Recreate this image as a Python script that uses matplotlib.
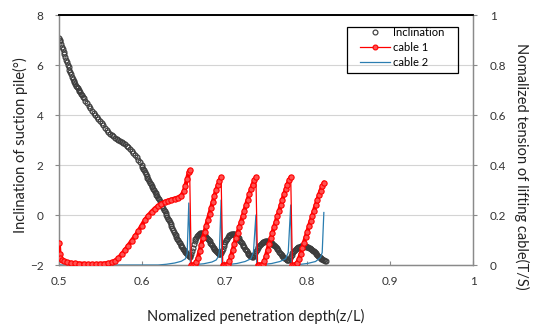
import numpy as np
import matplotlib
matplotlib.use("Agg")
import matplotlib.pyplot as plt
from matplotlib.lines import Line2D
from matplotlib.patches import Rectangle

plt.rcParams['font.family'] = ['Lato', 'DejaVu Sans']

# Inclination of the suction pile (deg) vs normalized penetration depth
incl_depth = [
    0.500, 0.501, 0.502, 0.503, 0.504, 0.505, 0.506, 0.507, 0.508, 0.509,
    0.510, 0.511, 0.512, 0.513, 0.514, 0.515, 0.516, 0.517, 0.518, 0.519,
    0.520, 0.521, 0.522, 0.523, 0.524, 0.525, 0.526, 0.527, 0.528, 0.529,
    0.530, 0.532, 0.534, 0.536, 0.538, 0.540, 0.542, 0.544, 0.546, 0.548,
    0.550, 0.552, 0.554, 0.556, 0.558, 0.560, 0.562, 0.564, 0.566, 0.568,
    0.570, 0.572, 0.574, 0.576, 0.578, 0.580, 0.582, 0.584, 0.586, 0.588,
    0.590, 0.592, 0.594, 0.596, 0.598,
    0.600, 0.601, 0.602, 0.603, 0.604, 0.605, 0.606, 0.607, 0.608, 0.609,
    0.610, 0.611, 0.612, 0.613, 0.614, 0.615, 0.616, 0.617, 0.618, 0.619,
    0.620, 0.621, 0.622, 0.623, 0.624, 0.625, 0.626, 0.627, 0.628, 0.629,
    0.630, 0.631, 0.632, 0.633, 0.634, 0.635, 0.636, 0.637, 0.638, 0.639,
    0.640, 0.641, 0.642, 0.643, 0.644, 0.645, 0.646, 0.647, 0.648, 0.649,
    0.650, 0.651, 0.652, 0.653, 0.654, 0.655, 0.656, 0.657, 0.658, 0.659,
    0.660, 0.661, 0.662, 0.663, 0.664, 0.665, 0.666, 0.667, 0.668, 0.669,
    0.670, 0.671, 0.672, 0.673, 0.674, 0.675, 0.676, 0.677, 0.678, 0.679,
    0.680, 0.681, 0.682, 0.683, 0.684, 0.685, 0.686, 0.687, 0.688, 0.689,
    0.690, 0.691, 0.692, 0.693, 0.694, 0.695, 0.696, 0.697, 0.698, 0.699,
    0.700, 0.701, 0.702, 0.703, 0.704, 0.705, 0.706, 0.707, 0.708, 0.709,
    0.710, 0.711, 0.712, 0.713, 0.714, 0.715, 0.716, 0.717, 0.718, 0.719,
    0.720, 0.721, 0.722, 0.723, 0.724, 0.725, 0.726, 0.727, 0.728, 0.729,
    0.730, 0.731, 0.732, 0.733, 0.734, 0.735, 0.736, 0.737, 0.738, 0.739,
    0.740, 0.741, 0.742, 0.743, 0.744, 0.745, 0.746, 0.747, 0.748, 0.749,
    0.750, 0.751, 0.752, 0.753, 0.754, 0.755, 0.756, 0.757, 0.758, 0.759,
    0.760, 0.761, 0.762, 0.763, 0.764, 0.765, 0.766, 0.767, 0.768, 0.769,
    0.770, 0.771, 0.772, 0.773, 0.774, 0.775, 0.776, 0.777, 0.778, 0.779,
    0.780, 0.781, 0.782, 0.783, 0.784, 0.785, 0.786, 0.787, 0.788, 0.789,
    0.790, 0.791, 0.792, 0.793, 0.794, 0.795, 0.796, 0.797, 0.798, 0.799,
    0.800, 0.801, 0.802, 0.803, 0.804, 0.805, 0.806, 0.807, 0.808, 0.809,
    0.810, 0.811, 0.812, 0.813, 0.814, 0.815, 0.816, 0.817, 0.818, 0.819,
    0.820, 0.821, 0.822,
]
incl_angle = [
    7.08, 7.02, 6.95, 6.85, 6.74, 6.64, 6.53, 6.43, 6.33, 6.22,
    6.11, 6.01, 5.91, 5.81, 5.72, 5.63, 5.54, 5.46, 5.38, 5.31,
    5.24, 5.18, 5.12, 5.07, 5.02, 4.97, 4.92, 4.86, 4.80, 4.74,
    4.68, 4.57, 4.47, 4.37, 4.27, 4.18, 4.10, 4.01, 3.92, 3.85,
    3.77, 3.68, 3.59, 3.50, 3.41, 3.33, 3.26, 3.20, 3.15, 3.10,
    3.06, 3.02, 2.98, 2.94, 2.89, 2.84, 2.78, 2.71, 2.64, 2.56,
    2.48, 2.40, 2.31, 2.22, 2.11,
    1.99, 1.93, 1.86, 1.79, 1.72, 1.645, 1.57, 1.50, 1.43, 1.365,
    1.30, 1.24, 1.18, 1.12, 1.06, 1.00, 0.94, 0.88, 0.82, 0.76,
    0.70, 0.635, 0.57, 0.50, 0.43, 0.36, 0.29, 0.22, 0.15, 0.08,
    0.01, -0.065, -0.14, -0.215, -0.29, -0.365, -0.44, -0.515, -0.59, -0.665,
    -0.74, -0.81, -0.88, -0.945, -1.01, -1.07, -1.13, -1.185, -1.24, -1.29,
    -1.34, -1.385, -1.43, -1.475, -1.52, -1.56, -1.60, -1.64, -1.66, -1.62,
    -1.55, -1.43, -1.30, -1.17, -1.05, -0.97, -0.90, -0.85, -0.80, -0.77,
    -0.74, -0.725, -0.72, -0.73, -0.74, -0.765, -0.79, -0.825, -0.86, -0.905,
    -0.95, -1.00, -1.05, -1.10, -1.15, -1.205, -1.26, -1.31, -1.36, -1.405,
    -1.45, -1.485, -1.52, -1.54, -1.56, -1.55, -1.52, -1.44, -1.35, -1.25,
    -1.15, -1.07, -1.00, -0.94, -0.88, -0.84, -0.80, -0.78, -0.76, -0.755,
    -0.75, -0.76, -0.77, -0.795, -0.82, -0.855, -0.89, -0.935, -0.98, -1.03,
    -1.08, -1.13, -1.18, -1.235, -1.29, -1.345, -1.40, -1.45, -1.50, -1.545,
    -1.59, -1.62, -1.65, -1.67, -1.68, -1.65, -1.60, -1.53, -1.45, -1.38,
    -1.32, -1.27, -1.22, -1.18, -1.14, -1.115, -1.09, -1.075, -1.06, -1.055,
    -1.05, -1.05, -1.05, -1.06, -1.07, -1.085, -1.10, -1.125, -1.15, -1.18,
    -1.21, -1.25, -1.29, -1.33, -1.37, -1.415, -1.46, -1.505, -1.55, -1.59,
    -1.63, -1.665, -1.70, -1.73, -1.76, -1.78, -1.80, -1.80, -1.78, -1.72,
    -1.65, -1.58, -1.52, -1.47, -1.42, -1.385, -1.35, -1.325, -1.30, -1.285,
    -1.27, -1.26, -1.25, -1.245, -1.24, -1.24, -1.24, -1.245, -1.25, -1.26,
    -1.27, -1.285, -1.30, -1.32, -1.34, -1.365, -1.39, -1.42, -1.45, -1.485,
    -1.52, -1.555, -1.59, -1.625, -1.66, -1.69, -1.72, -1.745, -1.77, -1.79,
    -1.81, -1.825, -1.84,
]

# Normalized tension of lifting cable 1 (T/S)
cable1_depth = [
    0.500, 0.501, 0.502, 0.504, 0.507, 0.510, 0.515, 0.520, 0.525, 0.530,
    0.535, 0.540, 0.545, 0.550, 0.555, 0.560, 0.564, 0.568, 0.572, 0.576,
    0.580, 0.584, 0.588, 0.592, 0.596, 0.600, 0.604, 0.608, 0.612, 0.616,
    0.620, 0.624, 0.628, 0.632, 0.636, 0.640, 0.644, 0.648, 0.651, 0.653,
    0.655, 0.657, 0.658,
    0.660, 0.662, 0.664, 0.666, 0.668, 0.670, 0.672, 0.674, 0.676, 0.678,
    0.680, 0.682, 0.684, 0.686, 0.688, 0.690, 0.692, 0.694, 0.696,
    0.698, 0.700, 0.702, 0.704, 0.706, 0.708, 0.710, 0.712, 0.714, 0.716,
    0.718, 0.720, 0.722, 0.724, 0.726, 0.728, 0.730, 0.732, 0.734, 0.736,
    0.738,
    0.740, 0.742, 0.744, 0.746, 0.748, 0.750, 0.752, 0.754, 0.756, 0.758,
    0.760, 0.762, 0.764, 0.766, 0.768, 0.770, 0.772, 0.774, 0.776, 0.778,
    0.780,
    0.782, 0.784, 0.786, 0.788, 0.790, 0.792, 0.794, 0.796, 0.798, 0.800,
    0.802, 0.804, 0.806, 0.808, 0.810, 0.812, 0.814, 0.816, 0.818, 0.820,
]
cable1_tension = [
    0.088, 0.045, 0.028, 0.020, 0.015, 0.012, 0.009, 0.007, 0.006, 0.005,
    0.004, 0.004, 0.004, 0.005, 0.006, 0.008, 0.011, 0.017, 0.028, 0.043,
    0.060, 0.078, 0.097, 0.115, 0.135, 0.158, 0.180, 0.198, 0.213, 0.226,
    0.237, 0.246, 0.253, 0.258, 0.262, 0.266, 0.270, 0.278, 0.295, 0.318,
    0.345, 0.372, 0.380,
    0.000, 0.000, 0.003, 0.012, 0.030, 0.055, 0.082, 0.108, 0.133, 0.158,
    0.182, 0.206, 0.230, 0.254, 0.277, 0.299, 0.319, 0.337, 0.352,
    0.000, 0.000, 0.000, 0.004, 0.015, 0.035, 0.060, 0.085, 0.108, 0.130,
    0.152, 0.174, 0.196, 0.218, 0.240, 0.262, 0.283, 0.303, 0.322, 0.339,
    0.352,
    0.000, 0.000, 0.000, 0.004, 0.015, 0.035, 0.060, 0.085, 0.108, 0.130,
    0.152, 0.174, 0.196, 0.218, 0.240, 0.262, 0.283, 0.303, 0.322, 0.339,
    0.352,
    0.000, 0.000, 0.002, 0.010, 0.025, 0.045, 0.068, 0.090, 0.112, 0.134,
    0.155, 0.176, 0.197, 0.218, 0.239, 0.259, 0.279, 0.298, 0.315, 0.330,
]

# Normalized tension of lifting cable 2 (T/S)
cable2_depth = [
    0.500, 0.620, 0.630, 0.640, 0.648, 0.653, 0.655, 0.657, 0.659,
    0.665, 0.675, 0.685, 0.690, 0.693, 0.694, 0.696, 0.697,
    0.705, 0.715, 0.725, 0.732, 0.735, 0.738, 0.739,
    0.747, 0.757, 0.767, 0.774, 0.777, 0.780, 0.781,
    0.790, 0.800, 0.810, 0.816, 0.818, 0.820,
]
cable2_tension = [
    0.000, 0.000, 0.003, 0.008, 0.015, 0.025, 0.045, 0.248, 0.002,
    0.002, 0.005, 0.012, 0.020, 0.035, 0.060, 0.260, 0.002,
    0.002, 0.006, 0.014, 0.025, 0.050, 0.200, 0.002,
    0.002, 0.006, 0.014, 0.025, 0.050, 0.240, 0.002,
    0.002, 0.006, 0.014, 0.030, 0.050, 0.210,
]

x_ticks = [0.5, 0.6, 0.7, 0.8, 0.9, 1.0]
x_tick_labels = ['0.5', '0.6', '0.7', '0.8', '0.9', '1']
left_ticks = [-2, 0, 2, 4, 6, 8]
right_ticks = [0, 0.2, 0.4, 0.6, 0.8, 1.0]
right_tick_labels = ['0', '0.2', '0.4', '0.6', '0.8', '1']

INCL_EDGE = '#3c3c3c'
C1_COLOR = '#ff0000'
C1_FACE = '#ff5050'
C2_COLOR = '#2a7db0'
TEXT = '#222222'

fig = plt.figure(figsize=(5.42, 3.25), dpi=100)
ax = fig.add_axes([0.1083, 0.1846, 0.7644, 0.7692])
ax2 = ax.twinx()

# left axis: inclination
ax.set_xlim(0.5, 1.0)
ax.set_ylim(-2, 8)
ax.set_xticks(x_ticks)
ax.set_xticklabels(x_tick_labels)
ax.set_yticks(left_ticks)
ax.yaxis.grid(True, color='#d4d4d4', linewidth=0.8)
ax.set_axisbelow(True)
ax.plot(incl_depth, incl_angle, linestyle='none', marker='o', markersize=3.5,
        markerfacecolor='none', markeredgecolor=INCL_EDGE, markeredgewidth=0.85,
        zorder=3)

# right axis: cable tensions
ax2.set_ylim(0, 1)
ax2.set_yticks(right_ticks)
ax2.set_yticklabels(right_tick_labels)

c1x = np.asarray(cable1_depth, dtype=float)
c1y = np.asarray(cable1_tension, dtype=float)
breaks = np.where(np.diff(c1y) < -0.1)[0] + 1
band_x = np.insert(c1x, breaks, np.nan)
band_y = np.insert(c1y, breaks, np.nan)

ax2.plot(cable2_depth, cable2_tension, color=C2_COLOR, linewidth=0.9, zorder=2)
ax2.plot(c1x, c1y, color=C1_COLOR, linewidth=0.9, zorder=3)
ax2.plot(band_x, band_y, color=C1_COLOR, linewidth=3.0, solid_capstyle='round',
         zorder=3)
ax2.plot(c1x, c1y, linestyle='none', marker='o', markersize=3.8,
         markerfacecolor=C1_FACE, markeredgecolor=C1_COLOR, markeredgewidth=0.8,
         zorder=4)

# spines and ticks
for a in (ax, ax2):
    for side in ('left', 'right', 'bottom'):
        a.spines[side].set_color('#8a8a8a')
        a.spines[side].set_linewidth(0.9)
    a.spines['top'].set_color('black')
    a.spines['top'].set_linewidth(1.2)

ax.tick_params(axis='x', direction='in', length=3, color='#8a8a8a', pad=8,
               labelsize=8.5, labelcolor='#333333')
ax.tick_params(axis='y', direction='out', length=3, color='#8a8a8a', pad=8,
               labelsize=8.5, labelcolor='#333333')
ax2.tick_params(axis='y', direction='out', length=3, color='#8a8a8a', pad=9,
                labelsize=8.5, labelcolor='#333333')

# axis titles
fig.text(0.472, 0.027, 'Nomalized penetration depth(z/L)', fontsize=10.5,
         color=TEXT, ha='center', va='center')
fig.text(0.037, 0.554, 'Inclination of suction pile(°)', fontsize=10.5,
         color=TEXT, ha='center', va='center', rotation=90)
fig.text(0.963, 0.489, 'Nomalized tension of lifting cable(T/S)', fontsize=10.5,
         color=TEXT, ha='center', va='center', rotation=-90)

# legend
handles = [
    Line2D([], [], linestyle='none', marker='o', markersize=3.5,
           markerfacecolor='none', markeredgecolor=INCL_EDGE, markeredgewidth=0.85),
    Line2D([], [], color=C1_COLOR, linewidth=0.9, marker='o', markersize=3.5,
           markerfacecolor=C1_FACE, markeredgecolor=C1_COLOR, markeredgewidth=0.8),
    Line2D([], [], color=C2_COLOR, linewidth=0.9),
]
ax2.legend(handles, ['Inclination', 'cable 1', 'cable 2'],
           loc='upper left', bbox_to_anchor=(0.727, 0.952),
           fontsize=8, frameon=False, handlelength=2.7, handletextpad=0.25,
           labelspacing=0.36, borderpad=0, borderaxespad=0)
fig.patches.append(Rectangle((0.640, 0.7754), 0.2048, 0.1415,
                             transform=fig.transFigure, facecolor='none',
                             edgecolor='black', linewidth=0.9, zorder=10))

fig.savefig('out.png', dpi=100)
